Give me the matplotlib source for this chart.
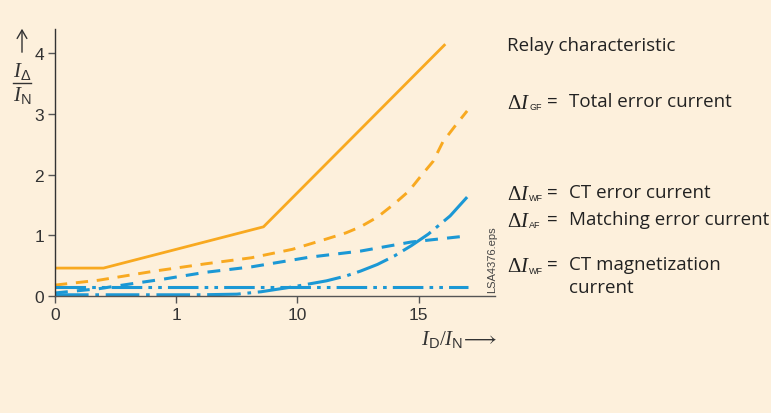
import matplotlib
matplotlib.use("Agg")
import matplotlib.pyplot as plt

plt.rcParams['mathtext.fontset'] = 'custom'
plt.rcParams['mathtext.rm'] = 'Liberation Serif'
plt.rcParams['mathtext.it'] = 'Liberation Serif:italic'
plt.rcParams['mathtext.sf'] = 'Liberation Sans'
plt.rcParams['mathtext.bf'] = 'Liberation Serif:bold'

# ---- data ----
x_relay = [0, 2, 8.6, 16.1]
y_relay = [0.46, 0.46, 1.14, 4.15]

x_total = [0, 1.8, 4.1, 6.2, 8.1, 9.8, 11.2, 12.0, 12.6, 13.3, 14.0, 14.6, 15.1, 15.6, 16.0, 16.5, 17.0]
y_total = [0.18, 0.26, 0.41, 0.53, 0.63, 0.77, 0.94, 1.04, 1.14, 1.30, 1.52, 1.73, 1.98, 2.22, 2.54, 2.80, 3.05]

x_match = [0, 1.8, 3.3, 4.5, 6.2, 8.1, 10.5, 12.6, 14.7, 17.0]
y_match = [0.05, 0.12, 0.21, 0.28, 0.39, 0.48, 0.64, 0.74, 0.89, 0.99]

x_ct = [0, 3, 6, 7.5, 8.5, 9.8, 11.2, 12.0, 12.6, 13.3, 14.0, 14.7, 15.4, 16.3, 17.0]
y_ct = [0.02, 0.02, 0.02, 0.03, 0.07, 0.15, 0.25, 0.33, 0.41, 0.52, 0.66, 0.83, 1.02, 1.32, 1.63]

x_mag = [0, 17.05]
y_mag = [0.155, 0.155]

xtick_pos = [0, 5, 10, 15]
xtick_labels = ["0", "1", "10", "15"]
ytick_pos = [0, 1, 2, 3, 4]

ORANGE = '#f8a920'
BLUE = '#1b98d5'
BG = '#fdf0dc'

W, H = 771, 414
fig = plt.figure(figsize=(W/100, H/100), dpi=100, facecolor=BG)
ax = fig.add_axes([55/W, 1-297/H, (495-55)/W, (297-30)/H])
ax.set_facecolor(BG)
ax.set_xlim(0, 18.15)
ax.set_ylim(0, 4.4)

ax.plot(x_relay, y_relay, color=ORANGE, lw=2.0, solid_capstyle='butt', clip_on=False)
ax.plot(x_total, y_total, color=ORANGE, lw=2.1, dashes=(4.2, 3.0), clip_on=False)
ax.plot(x_match, y_match, color=BLUE, lw=2.2, dashes=(4.2, 3.0), clip_on=False)
ax.plot(x_ct, y_ct, color=BLUE, lw=2.2, dashes=(11, 2.2, 1.2, 2.2), clip_on=False)
ax.plot(x_mag, y_mag, color=BLUE, lw=2.2, dashes=(10, 2.0, 1.2, 2.0, 1.2, 2.0), clip_on=False)

for s in ['top', 'right']:
    ax.spines[s].set_visible(False)
ax.spines['left'].set_color('#333333')
ax.spines['bottom'].set_color('#555555')
ax.spines['left'].set_linewidth(1.0)
ax.spines['bottom'].set_linewidth(1.0)

ax.set_xticks(xtick_pos)
ax.set_xticklabels(xtick_labels)
ax.set_yticks(ytick_pos)
ax.tick_params(axis='both', direction='out', length=5, width=1.0, color='#555555',
               labelcolor='#333333', labelsize=12.5)
ax.tick_params(axis='y', pad=3)
ax.tick_params(axis='x', pad=3)
for lab in ax.get_xticklabels() + ax.get_yticklabels():
    lab.set_fontfamily('Liberation Sans')

# y label: arrow and fraction
fig.patches.append(matplotlib.patches.FancyArrowPatch(
    (22/W, 1-56/H), (22/W, 1-27/H), transform=fig.transFigure,
    arrowstyle='->,head_width=3.5,head_length=6', lw=1.0, color='#333333'))
fig.text(22/W, 1-71/H, r'$I_{\mathsf{\Delta}}$', ha='center', va='center',
         fontsize=15, color='#333333')
fig.add_artist(matplotlib.lines.Line2D([13/W, 31/W], [1-84/H, 1-84/H], color='#333333', lw=1.0))
fig.text(22/W, 1-95/H, r'$I_{\mathsf{N}}$', ha='center', va='center',
         fontsize=15, color='#333333')

# x label
fig.text(497/W, 1-340/H, r'$I_{\mathsf{D}}/I_{\mathsf{N}}\!\longrightarrow$', ha='right',
         va='center', fontsize=15, color='#333333')

# file tag
fig.text(492/W, 1-293/H, 'LSA4376.eps', rotation=90, ha='center', va='bottom',
         fontsize=8, color='#444444', family='Liberation Sans')

# right-side legend text
TF = 'Open Sans'
TS = 13.5
TC = '#222222'
fig.text(507/W, 1-46/H, 'Relay characteristic', ha='left', va='center',
         fontsize=TS, family=TF, color=TC)
rows = [
    (102, 'GF', 'Total error current'),
    (193, 'WF', 'CT error current'),
    (220, 'AF', 'Matching error current'),
    (265, 'WF', 'CT magnetization'),
]
for yy, sub, txt in rows:
    fig.text(507/W, 1-(yy+1)/H, r'$\Delta I$', ha='left',
             va='center', fontsize=15, color=TC)
    fig.text(529/W, 1-(yy+6)/H, sub, ha='left', va='center', fontsize=6.5,
             family='Liberation Sans', color=TC)
    fig.text(547/W, 1-yy/H, '=', ha='left', va='center', fontsize=TS, family=TF, color=TC)
    fig.text(569/W, 1-yy/H, txt, ha='left', va='center', fontsize=TS, family=TF, color=TC)
fig.text(569/W, 1-288/H, 'current', ha='left', va='center', fontsize=TS, family=TF, color=TC)

fig.savefig('out.png', dpi=100, facecolor=BG)
